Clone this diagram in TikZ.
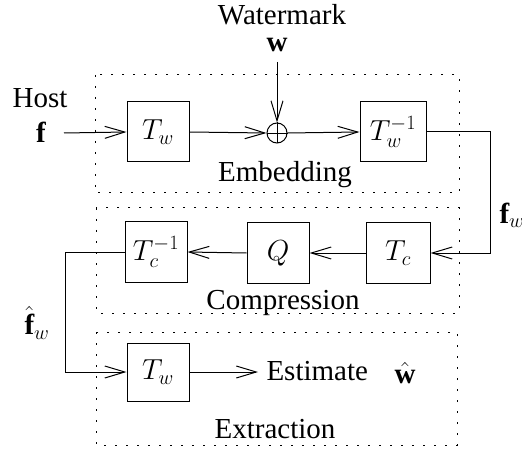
\RequirePackage{fix-cm}
\documentclass[tikz,border=0pt]{standalone}
\usepackage{amsmath}
\usepackage{fontspec}
\setmainfont{Liberation Serif}
\usetikzlibrary{arrows.meta}

\begin{document}
\begin{tikzpicture}[x=1pt,y=-1pt,line width=1pt,
        font=\fontsize{29}{34}\selectfont,
        >={Straight Barb[length=20pt,width=12pt]},
        block/.style={draw,minimum width=62pt,minimum height=60pt,inner sep=0pt},
        group/.style={dash pattern=on 2pt off 9pt},
        lbl/.style={inner sep=0pt,anchor=base}]
        \useasboundingbox (0,0) rectangle (522,449);
        % groups
        \draw[group] (95,75) rectangle (459,193);
        \draw[group] (96,208) rectangle (459,313);
        \draw[group] (96,332) rectangle (457,445);
        \node[lbl] (embtxt) at (285,182) {Embedding};
        \node[lbl] (comptxt) at (283,309) {Compression};
        \node[lbl] (extrtxt) at (275,438) {Extraction};
        % blocks
        \node[block] (tw1) at (158,132) {$T_w$};
        \node[draw,circle,minimum size=20pt,inner sep=0pt] (sum) at (277,133) {};
        \draw[line width=0.8pt] (sum.north) -- (sum.south) (sum.west) -- (sum.east);
        \node[block,minimum width=66pt] (twi) at (393,132) {$T_w^{-1}$};
        \node[block,minimum width=64pt] (tc) at (398,253) {$T_c$};
        \node[block] (q) at (278,253) {$Q$};
        \node[block] (tci) at (156,252) {$T_c^{-1}$};
        \node[block,minimum height=58pt] (tw2) at (158,372) {$T_w$};
        % labels
        \node[lbl] (host) at (40,108) {Host};
        \node[lbl] (f) at (41,143) {$\mathbf{f}$};
        \node[lbl] (wm) at (282,25) {Watermark};
        \node[lbl] (w) at (277,52) {$\mathbf{w}$};
        \node (fw) at (512,215) {$\mathbf{f}_w$};
        \node[inner sep=0pt] (fwh) at (37,323) {$\hat{\mathbf{f}}_w$};
        \node[lbl,anchor=base west] (est) at (266,380) {Estimate};
        \node[lbl] (wh) at (405,383) {$\hat{\mathbf{w}}$};
        \coordinate (fin) at (64,133);
        \coordinate (win) at (277,62);
        % connectors
        \draw[->] (fin) -- (tw1.west);
        \draw[->] (tw1.east) -- (sum.west);
        \draw[->] (win) -- (sum.north);
        \draw[->] (sum.east) -- (twi.west);
        \draw[->] (twi.east) -- ++(64,0) |- (tc.east);
        \draw[->] (tc.west) -- (q.east);
        \draw[->] (q.west) -- (tci.east);
        \draw[->] (tci.west) -- ++(-59,0) |- (tw2.west);
        \draw[->] (tw2.east) -- ([xshift=-8pt]tw2.east -| est.west);
    \end{tikzpicture}
\end{document}
